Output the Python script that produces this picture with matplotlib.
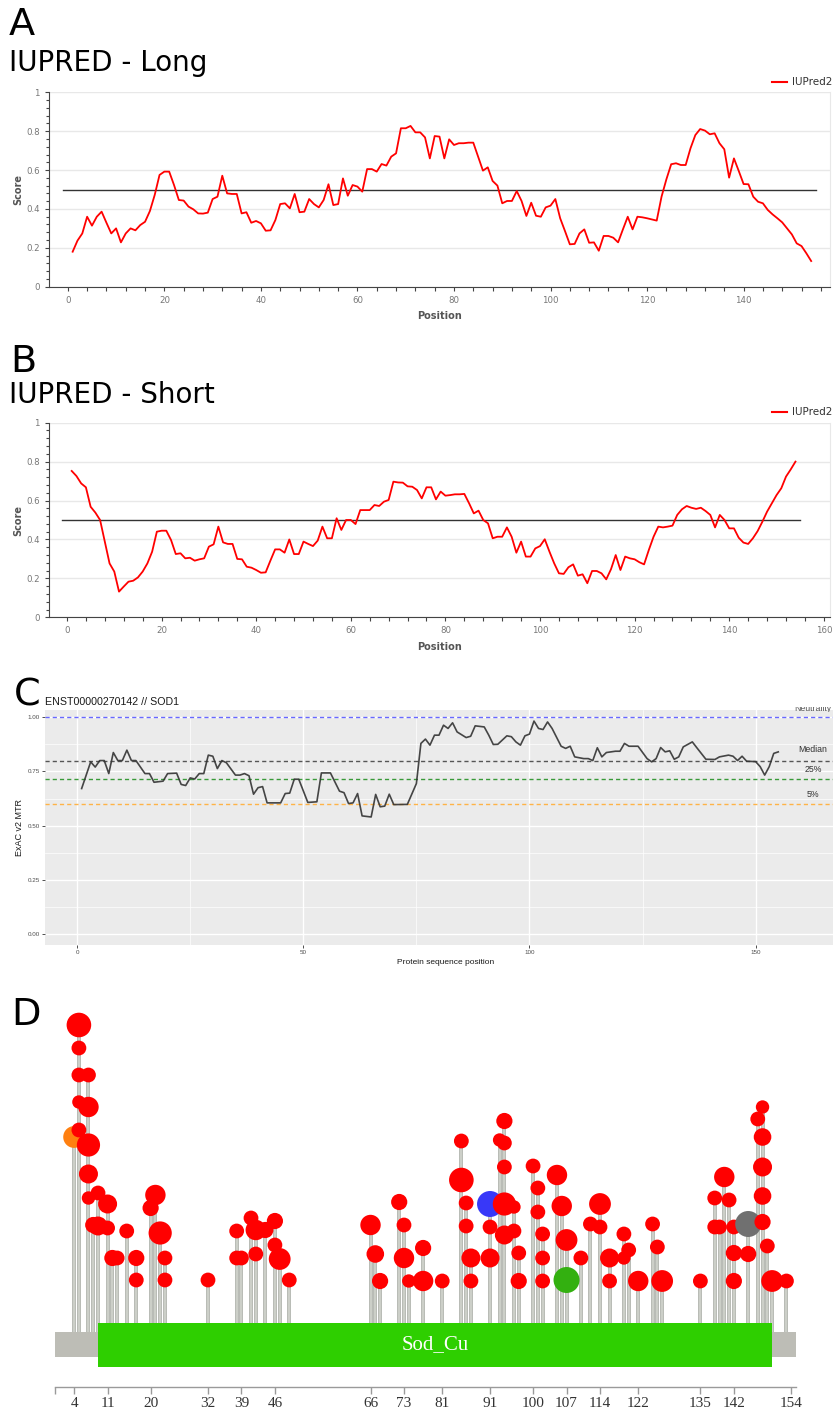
import matplotlib
matplotlib.use('Agg')
import matplotlib.pyplot as plt
import numpy as np
from matplotlib.patches import Rectangle
from matplotlib.lines import Line2D
from matplotlib.ticker import MultipleLocator, FuncFormatter, FormatStrFormatter

W, H = 833, 1417

# IUPred2 scores, residues 1..154
positions = np.arange(1, 155)
iupred_long = [
    .180, .237, .274, .360, .314, .360, .386, .329, .274, .300,
    .228, .274, .300, .290, .317, .334, .389, .472, .575, .592,
    .592, .523, .446, .443, .412, .398, .377, .376, .381, .451,
    .463, .571, .480, .477, .477, .377, .383, .329, .338, .326,
    .288, .290, .343, .425, .429, .403, .477, .383, .386, .451,
    .425, .408, .446, .527, .420, .425, .557, .468, .523, .515,
    .489, .605, .605, .592, .631, .623, .669, .686, .815, .815,
    .827, .794, .794, .768, .660, .775, .772, .660, .758, .729,
    .738, .738, .741, .741, .669, .597, .614, .544, .520, .429,
    .441, .441, .492, .441, .364, .432, .365, .360, .408, .417,
    .451, .352, .286, .218, .220, .274, .295, .226, .228, .185,
    .261, .261, .252, .228, .295, .360, .295, .360, .357, .352,
    .346, .340, .463, .552, .630, .635, .626, .626, .712, .780,
    .811, .803, .784, .789, .738, .707, .561, .660, .595, .528,
    .527, .463, .437, .429, .395, .372, .352, .331, .300, .269,
    .223, .209, .172, .132,
]
iupred_short = [
    .752, .726, .688, .668, .568, .538, .500, .389, .277, .235,
    .132, .158, .183, .188, .205, .235, .277, .337, .440, .445,
    .445, .397, .325, .329, .303, .306, .291, .298, .303, .363,
    .375, .466, .385, .377, .377, .300, .298, .260, .255, .243,
    .229, .231, .291, .349, .349, .332, .400, .325, .325, .389,
    .377, .366, .394, .466, .406, .406, .509, .449, .500, .500,
    .479, .551, .551, .551, .577, .572, .594, .603, .697, .693,
    .692, .673, .671, .654, .611, .668, .668, .606, .646, .625,
    .628, .632, .632, .634, .586, .534, .548, .500, .483, .406,
    .414, .414, .462, .414, .332, .389, .312, .312, .354, .366,
    .401, .337, .277, .226, .223, .257, .272, .214, .221, .175,
    .238, .238, .226, .195, .247, .320, .243, .312, .303, .298,
    .283, .272, .346, .414, .466, .462, .466, .471, .526, .555,
    .572, .563, .557, .563, .546, .526, .462, .526, .500, .457,
    .457, .409, .384, .377, .406, .443, .491, .543, .586, .628,
    .663, .723, .760, .800,
]
iupred_cutoff = 0.5

# ExAC v2 missense tolerance ratio
mtr_pos = [
    1, 3, 4, 5, 6, 7, 8, 9, 10, 11, 12, 13, 15, 16, 17, 19, 20, 22, 23, 24,
    25, 26, 27, 28, 29, 30, 31, 32, 33, 35, 36, 37, 38, 39, 40, 41, 42, 45, 46, 47,
    48, 49, 51, 53, 54, 56, 58, 59, 60, 61, 62, 63, 65, 66, 67, 68, 69, 70, 73, 75,
    76, 77, 78, 79, 80, 81, 82, 83, 84, 86, 87, 88, 90, 91, 92, 93, 95, 96, 97, 98,
    99, 100, 101, 102, 103, 104, 105, 107, 108, 109, 110, 112, 113, 114, 115, 116, 117, 119, 120, 121,
    122, 124, 126, 127, 128, 129, 130, 131, 132, 133, 134, 136, 137, 139, 141, 142, 144, 145, 146, 147,
    148, 150, 151, 152, 153, 154, 155,
]
mtr_val = [
    .671, .794, .770, .800, .800, .740, .837, .800, .800, .848, .800, .800, .740, .740, .700, .705, .740, .742, .690, .685,
    .720, .715, .740, .740, .825, .820, .763, .800, .790, .733, .733, .740, .730, .645, .675, .680, .605, .605, .648, .650,
    .714, .714, .607, .610, .743, .743, .659, .652, .602, .605, .648, .545, .540, .644, .587, .590, .645, .597, .598, .694,
    .879, .899, .871, .917, .917, .963, .948, .974, .932, .906, .912, .960, .955, .917, .874, .875, .914, .910, .886, .871,
    .914, .922, .982, .948, .943, .978, .948, .866, .856, .866, .817, .809, .809, .800, .859, .817, .837, .843, .843, .879,
    .866, .866, .809, .794, .809, .860, .840, .845, .806, .817, .863, .886, .859, .806, .805, .817, .825, .820, .800, .820,
    .797, .795, .772, .733, .772, .833, .840,
]
mtr_names = ['Neutrality', 'Median', '25%', '5%']
mtr_levels = [1.00, 0.80, 0.714, 0.599]
mtr_colors = ['#6868ff', '#555555', '#3a9a3a', '#ffb347']

# lollipop: residue, stacking height, count, variant class
mut_pos = [
    5, 5, 5, 7, 5, 7, 4, 5, 7, 7, 7, 9, 11, 8, 9, 11, 15, 12, 13, 17,
    17, 21, 20, 22, 23, 23, 32, 38, 38, 39, 41, 42, 44, 46, 42, 46, 47, 49, 66, 67,
    68, 72, 73, 73, 74, 77, 77, 81, 85, 85, 86, 86, 87, 87, 91, 91, 91, 94, 93, 94,
    94, 94, 96, 94, 96, 97, 97, 100, 101, 101, 102, 102, 102, 105, 106, 107, 107, 110, 114, 112,
    114, 116, 116, 119, 120, 119, 122, 125, 126, 127, 135, 138, 140, 141, 138, 139, 142, 145, 142, 145,
    142, 148, 147, 148, 148, 148, 148, 149, 150, 153,
]
mut_height = [
    30.7, 28.4, 25.7, 25.7, 23.0, 22.5, 19.5, 20.2, 18.7, 15.8, 13.4, 13.9, 12.8, 10.7, 10.6, 10.4, 10.1, 7.4, 7.4, 7.4,
    5.2, 13.7, 12.4, 9.9, 7.4, 5.2, 5.2, 10.1, 7.4, 7.4, 11.4, 10.2, 10.2, 11.1, 7.8, 8.7, 7.3, 5.2, 10.7, 7.8,
    5.1, 13.0, 10.7, 7.4, 5.1, 8.4, 5.1, 5.1, 19.1, 15.2, 12.9, 10.6, 7.4, 5.1, 12.8, 10.5, 7.4, 21.1, 19.2, 18.9,
    16.5, 12.8, 12.5, 9.7, 10.1, 7.9, 5.1, 16.6, 14.4, 12.0, 9.8, 7.4, 5.1, 15.7, 12.6, 9.2, 5.2, 7.4, 12.8, 10.8,
    10.5, 7.4, 5.1, 9.8, 8.2, 7.4, 5.1, 10.8, 8.5, 5.1, 5.1, 13.4, 15.5, 13.2, 10.5, 10.5, 10.5, 10.8, 7.9, 7.8,
    5.1, 22.5, 21.3, 19.5, 16.5, 13.6, 11.0, 8.6, 5.1, 5.1,
]
mut_count = [
    9, 2, 2, 2, 1, 6, 7, 2, 8, 5, 1, 2, 5, 3, 5, 2, 2, 3, 2, 3,
    2, 6, 3, 8, 2, 2, 2, 2, 2, 2, 2, 6, 3, 3, 2, 2, 7, 2, 6, 4,
    3, 3, 2, 6, 1, 3, 6, 2, 2, 9, 2, 2, 5, 2, 10, 2, 5, 3, 1, 2,
    2, 8, 1, 5, 2, 2, 3, 2, 2, 2, 2, 2, 2, 6, 6, 7, 10, 2, 7, 2,
    2, 5, 2, 2, 2, 1, 6, 2, 2, 7, 2, 2, 6, 2, 2, 2, 2, 10, 3, 3,
    3, 1, 2, 4, 5, 4, 3, 2, 7, 2,
]
mut_class = ['M'] * len(mut_pos)
mut_class[6] = 'S'    # residue 4
mut_class[54] = 'F'   # residue 91
mut_class[76] = 'I'   # residue 107
mut_class[97] = 'O'   # residue 145
class_colors = {'M': '#ff0000', 'S': '#ff8010', 'F': '#3838f8', 'I': '#33b010', 'O': '#707070'}

protein_length = 155
domain_name = 'Sod_Cu'
domain_start, domain_end = 9, 150
ruler_ticks = [4, 11, 20, 32, 39, 46, 66, 73, 81, 91, 100, 107, 114, 122, 135, 142, 154]

fig = plt.figure(figsize=(W / 100, H / 100), dpi=100)


def px_axes(x0, y0, x1, y1):
    return fig.add_axes([x0 / W, 1 - y1 / H, (x1 - x0) / W, (y1 - y0) / H])


def px_text(x, y, s, **kw):
    return fig.text(x / W, 1 - y / H, s, **kw)


def iupred_panel(box, scores, xlim, legend_y):
    ax = px_axes(*box)
    ax.plot(positions, scores, color='#ff0000', lw=1.3, zorder=3)
    ax.plot([-1, 155], [iupred_cutoff, iupred_cutoff], color='#333333', lw=1.0, zorder=2)
    ax.set_xticks(np.arange(0, xlim[1], 20))
    ax.xaxis.set_minor_locator(MultipleLocator(4))
    ax.set_yticks(np.arange(0, 1.01, 0.2))
    ax.yaxis.set_minor_locator(MultipleLocator(0.04))
    ax.yaxis.set_major_formatter(FuncFormatter(lambda v, p: '%g' % round(v, 1)))
    ax.set_xlim(*xlim)
    ax.set_ylim(0, 1)
    ax.grid(axis='y', color='#e8e8e8', lw=1.0)
    ax.set_axisbelow(True)
    ax.spines['top'].set_visible(False)
    ax.spines['right'].set_color('#e8e8e8')
    for s in ('left', 'bottom'):
        ax.spines[s].set_color('#444444')
    ax.tick_params(which='both', direction='out', color='#444444',
                   labelcolor='#777777', labelsize=6.2, length=3, width=0.8)
    ax.tick_params(axis='y', which='minor', length=2)
    ax.set_xlabel('Position', fontsize=7, fontweight='bold', color='#555555')
    ax.xaxis.set_label_coords(0.5, -0.125)
    ax.set_ylabel('Score', fontsize=7, fontweight='bold', color='#555555')
    ax.yaxis.set_label_coords(-0.033, 0.5)
    # legend entry above the plot area
    fig.add_artist(Line2D([772 / W, 787 / W], [1 - legend_y / H] * 2,
                          color='#ff0000', lw=1.5))
    px_text(792, legend_y, 'IUPred2', fontsize=7.5, color='#333333', va='center')
    return ax


# A: IUPred long
px_text(9, 35, 'A', fontsize=27.5)
px_text(9, 70.7, 'IUPRED - Long', fontsize=20)
iupred_panel((49, 92.3, 830, 286.7), iupred_long, (-3.9, 157.9), 81.7)

# B: IUPred short
px_text(10, 372, 'B', fontsize=27.5)
px_text(9, 403, 'IUPRED - Short', fontsize=20)
iupred_panel((49, 422.7, 830, 617.3), iupred_short, (-3.8, 161.3), 412)

# C: MTR plot
px_text(14, 706, 'C', fontsize=27.5)
px_text(45, 705, 'ENST00000270142 // SOD1', fontsize=7.7, family='Liberation Sans',
        color='#1a1a1a')
axc = px_axes(45, 710, 833, 945)
axc.set_facecolor('#ebebeb')
axc.set_xticks([0, 50, 100, 150])
axc.set_yticks([0, 0.25, 0.5, 0.75, 1.0])
axc.set_xlim(-7.1, 167.1)
axc.set_ylim(-0.05, 1.033)
axc.xaxis.set_minor_locator(MultipleLocator(25))
axc.yaxis.set_minor_locator(MultipleLocator(0.125))
axc.yaxis.set_major_formatter(FormatStrFormatter('%.2f'))
axc.grid(which='major', color='white', lw=1.0)
axc.grid(which='minor', color='white', lw=0.5)
axc.set_axisbelow(True)
for s in axc.spines.values():
    s.set_visible(False)
axc.tick_params(which='major', length=2, color='#333333', width=0.6,
                labelcolor='#4d4d4d', labelsize=4.5, pad=1.5)
axc.tick_params(which='minor', length=0)
for t in axc.get_xticklabels() + axc.get_yticklabels():
    t.set_family('Liberation Sans')
for name, lvl, col in zip(mtr_names, mtr_levels, mtr_colors):
    axc.axhline(lvl, color=col, lw=1.0, ls=(0, (3, 2.2)), zorder=2)
axc.plot(mtr_pos, mtr_val, color='#333333', lw=1.2, alpha=0.9, zorder=3)
lab_x = 162.7
for name, y in zip(mtr_names[1:], [0.849, 0.757, 0.642]):
    axc.text(lab_x, y, name, ha='center', va='center', fontsize=6.3,
             family='Liberation Sans', color='#333333')
top_lab = px_text(813, 711.5, mtr_names[0], ha='center', va='baseline', fontsize=6.3,
                  family='Liberation Sans', color='#555555')
top_lab.set_clip_path(Rectangle((700 / W, 1 - 712 / H), 133 / W, 5 / H,
                                transform=fig.transFigure))
px_text(20, 828, 'ExAC v2 MTR', rotation=90, ha='center', va='center', fontsize=6.5,
        family='Liberation Sans', color='#1a1a1a')
px_text(446, 962, 'Protein sequence position', ha='center', va='center', fontsize=6,
        family='Liberation Sans', color='#1a1a1a')

# D: lollipop plot, height unit = 10 px above the backbone
px_text(11, 1025, 'D', fontsize=27.5)
axd = px_axes(55, 1000, 796, 1387)
axd.set_xticks(ruler_ticks)
axd.set_xticks([0], minor=True)
axd.set_xlim(0, protein_length)
axd.set_ylim(-5.5, 33.2)
for s in ('top', 'right', 'left'):
    axd.spines[s].set_visible(False)
axd.spines['bottom'].set_color('#9a9a9a')
axd.spines['bottom'].set_linewidth(1.0)
axd.set_yticks([])
axd.tick_params(axis='x', which='both', direction='out', length=5, width=1.0,
                color='#9a9a9a', labelsize=11, labelcolor='#333333', pad=2)
for t in axd.get_xticklabels():
    t.set_family('Liberation Serif')

mp = np.array(mut_pos)
mh = np.array(mut_height)
stem_x = np.unique(mp)
stem_top = np.array([mh[mp == p].max() for p in stem_x])
axd.vlines(stem_x, 0, stem_top, color='#a9ada5', lw=2.6, zorder=1)
axd.vlines(stem_x, 0, stem_top, color='#cdd0c9', lw=1.4, zorder=1.1)

order = np.argsort(mp, kind='stable')
radius_px = 6.0 + 0.7 * np.array(mut_count)
sizes = (2 * radius_px * 0.72) ** 2
cols = [class_colors[c] for c in mut_class]
axd.scatter(mp[order], mh[order], s=sizes[order], c=[cols[i] for i in order],
            linewidths=0, zorder=3)

axd.add_patch(Rectangle((0, -2.5), protein_length, 2.5, facecolor='#bdbdb6',
                        edgecolor='none', zorder=4, clip_on=False))
axd.add_patch(Rectangle((domain_start, -3.5), domain_end - domain_start, 4.4,
                        facecolor='#2ecf00', edgecolor='none', zorder=5, clip_on=False))
axd.text((domain_start + domain_end) / 2, -1.3, domain_name, ha='center', va='center',
         fontsize=15, family='Liberation Serif', color='white', zorder=6)

fig.savefig('out.png', dpi=100)
